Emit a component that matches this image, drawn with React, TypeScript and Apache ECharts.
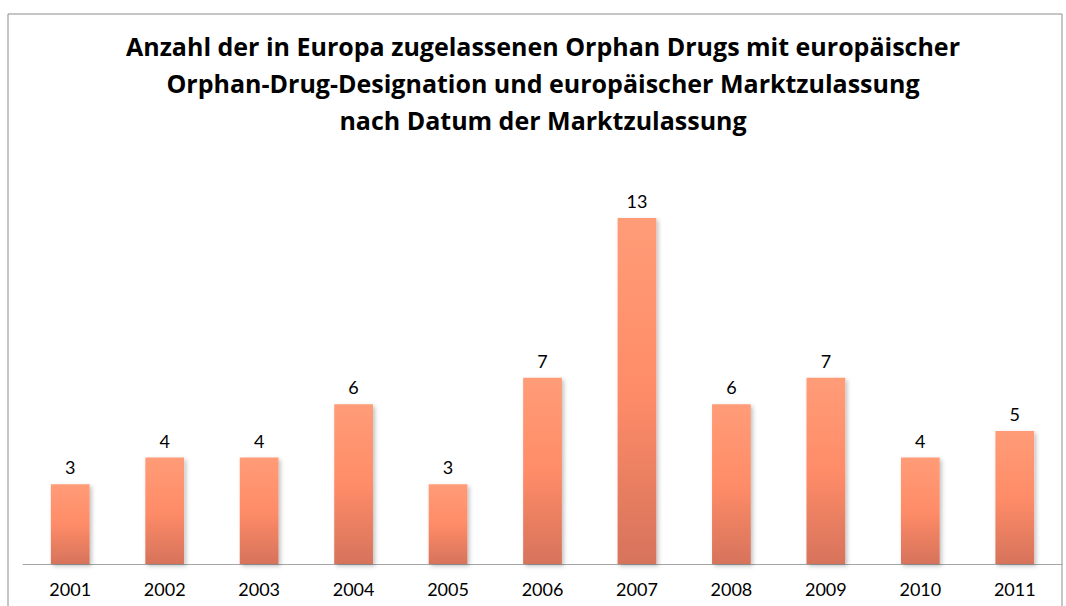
import React, { useEffect, useRef } from "react";
import * as echarts from "echarts";

const years = ["2001", "2002", "2003", "2004", "2005", "2006", "2007", "2008", "2009", "2010", "2011"];
const counts = [3, 4, 4, 6, 3, 7, 13, 6, 7, 4, 5];
const titleLines = [
  "Anzahl der in Europa zugelassenen Orphan Drugs mit europäischer",
  "Orphan-Drug-Designation und europäischer Marktzulassung",
  "nach Datum der Marktzulassung",
];

export default function App() {
  const ref = useRef<HTMLDivElement>(null);
  useEffect(() => {
    const chart = echarts.init(ref.current!, null, { renderer: "svg" });
    chart.setOption({
      animation: false,
      backgroundColor: "#fff",
      graphic: [
        {
          type: "rect",
          shape: { x: 8, y: 14, width: 1054, height: 620 },
          style: { fill: "none", stroke: "#8c8c8c", lineWidth: 1 },
        },
        ...titleLines.map((t, i) => ({
          type: "text",
          x: 543,
          y: 46 + i * 37,
          style: {
            text: t,
            fill: "#000",
            font: "bold 25px 'Open Sans', sans-serif",
            textAlign: "center",
            textVerticalAlign: "middle",
          },
        })),
      ],
      grid: { left: 23, right: 4, top: 218, bottom: 42, containLabel: false },
      xAxis: {
        type: "category",
        data: years,
        axisLine: { show: true, lineStyle: { color: "#a6a6a6", width: 1 } },
        axisTick: { show: false },
        axisLabel: { color: "#000", fontSize: 18, fontFamily: "Lato, 'Open Sans', sans-serif", margin: 16 },
      },
      yAxis: {
        type: "value",
        min: 0,
        max: 13,
        show: false,
        splitLine: { show: false },
      },
      series: [
        {
          type: "bar",
          data: counts,
          barWidth: "41%",
          itemStyle: {
            color: new echarts.graphic.LinearGradient(0, 0, 0, 1, [
              { offset: 0, color: "#ff9c77" },
              { offset: 0.5, color: "#ff8c68" },
              { offset: 1, color: "#d6735b" },
            ]),
            shadowColor: "rgba(0,0,0,0.25)",
            shadowBlur: 4,
            shadowOffsetX: 2,
            shadowOffsetY: 2,
          },
          label: {
            show: true,
            position: "top",
            distance: 8,
            color: "#000",
            fontSize: 18,
            fontFamily: "Lato, 'Open Sans', sans-serif",
          },
        },
      ],
    });
    return () => chart.dispose();
  }, []);
  return (
    <div
      ref={ref}
      style={{ position: "fixed", left: 0, top: 0, width: 1066, height: 606 }}
    />
  );
}
